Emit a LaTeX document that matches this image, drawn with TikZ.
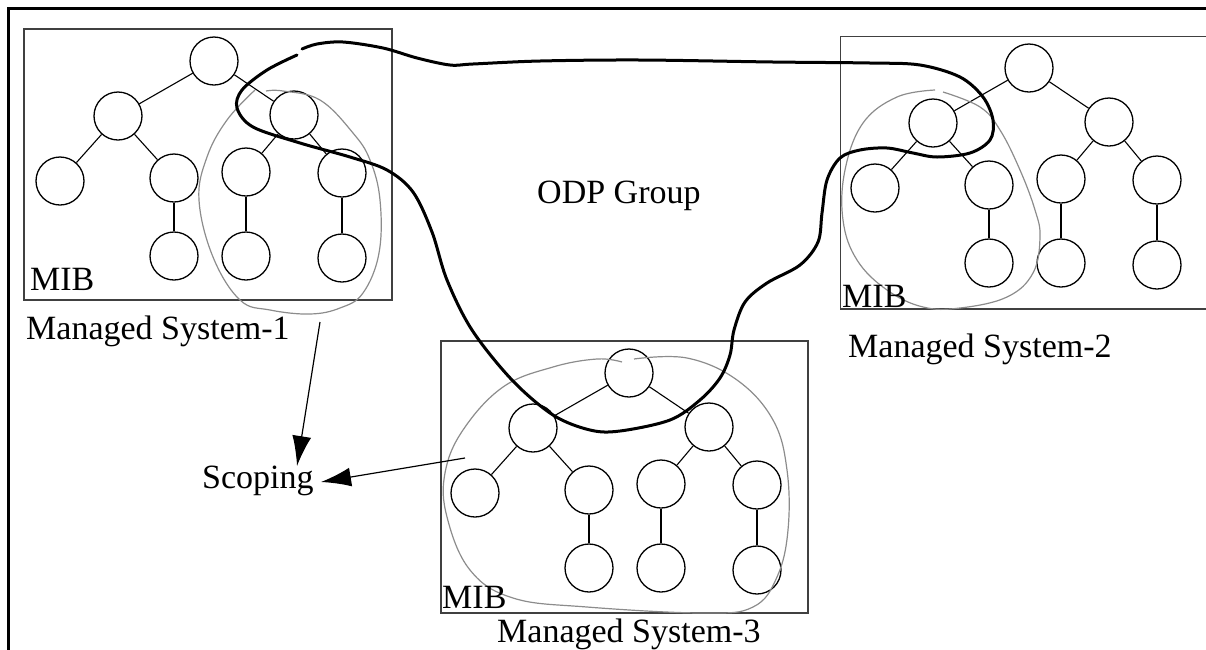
\documentclass[tikz,border=0pt]{standalone}
\usepackage{fontspec}
\setmainfont{Liberation Serif}
\usetikzlibrary{arrows.meta}
\tikzset{
  treenode/.style={circle,draw=black,line width=1.3pt,minimum size=48pt,inner sep=0pt},
  treeedge/.style={draw=black,line width=1.1pt},
  mibbox/.style={draw=black!75,line width=1.4pt},
  scopecurve/.style={draw=black!45,line width=1.2pt},
  odpcurve/.style={draw=black,line width=3pt,line cap=round},
  frameline/.style={draw=black,line width=3pt},
  lbl/.style={anchor=base west,inner sep=0pt,font=\fontsize{34}{40}\selectfont},
  scopearrow/.style={draw=black,line width=1.2pt,-{Latex[length=30pt,width=19pt]}},
}
\newcommand\mibtree[3]{%
  \node[treenode] (#1-r)   at (#2,#3) {};
  \node[treenode] (#1-a)   at (#2-96,#3+55) {};
  \node[treenode] (#1-b)   at (#2+80,#3+54) {};
  \node[treenode] (#1-aa)  at (#2-154,#3+120) {};
  \node[treenode] (#1-ab)  at (#2-40,#3+117) {};
  \node[treenode] (#1-ba)  at (#2+32,#3+111) {};
  \node[treenode] (#1-bb)  at (#2+128,#3+112) {};
  \node[treenode] (#1-aba) at (#2-40,#3+195) {};
  \node[treenode] (#1-baa) at (#2+32,#3+195) {};
  \node[treenode] (#1-bba) at (#2+128,#3+197) {};
  \draw[treeedge] (#1-r) -- (#1-a);
  \draw[treeedge] (#1-r) -- (#1-b);
  \draw[treeedge] (#1-a) -- (#1-aa);
  \draw[treeedge] (#1-a) -- (#1-ab);
  \draw[treeedge] (#1-b) -- (#1-ba);
  \draw[treeedge] (#1-b) -- (#1-bb);
  \draw[treeedge] (#1-ab) -- (#1-aba);
  \draw[treeedge] (#1-ba) -- (#1-baa);
  \draw[treeedge] (#1-bb) -- (#1-bba);
}
\begin{document}
\begin{tikzpicture}[x=1pt,y=-1pt]
\useasboundingbox (0,0) rectangle (1206,649);
\clip (0,0) rectangle (1206,649);
% outer frame
\draw[frameline] (8.5,660) -- (8.5,8) -- (1215,8);
% MIB boxes
\draw[mibbox] (24,29) rectangle (392,300);
\draw[mibbox] (840.5,36.5) rectangle (1220,309);
\draw[mibbox] (441,341) rectangle (808,613);
% trees
\mibtree{s1}{214}{61}
\mibtree{s2}{1029}{68}
\mibtree{s3}{629}{373}
% scoping curves
\draw[scopecurve] plot[smooth,tension=0.65] coordinates {
 (266,91) (283,91) (320,100) (353,133) (370,160) (380,200) (379,253)
 (363,293) (340,308) (310,314) (270,310) (240,300) (213,257) (199,200)
 (207,157) (227,120) (255,90)};
\draw[scopecurve] plot[smooth,tension=0.65] coordinates {
 (943,92) (980,107) (1000,130) (1020,170) (1035,210) (1040,237) (1033,273)
 (1007,297) (960,308) (923,307) (887,290) (857,260) (843,220) (845,170)
 (863,123) (897,97) (935,90)};
\draw[scopecurve] plot[smooth,tension=0.65] coordinates {
 (634,359) (687,358) (737,380) (773,420) (787,470) (788,530) (777,577)
 (753,607) (703,613) (587,607) (513,598) (470,570) (447,517) (445,473)
 (463,430) (503,387) (553,367) (597,359) (622,362)};
% ODP group curve
\draw[odpcurve] plot[smooth,tension=0.55] coordinates {
 (302,49) (317,44) (343,42) (383,48) (417,58) (450,65) (473,64) (540,61)
 (640,60) (773,62) (870,63) (920,65) (960,77) (983,97) (993,120) (990,140)
 (970,153) (937,157) (913,153) (887,148) (860,150) (840,158) (827,180)
 (822,213) (818,242) (800,265) (767,283) (745,302) (734,330) (730,355)
 (720,378) (700,400) (670,420) (620,431) (590,430) (553,415) (512,380)
 (472,330) (447,280) (432,232) (413,192) (387,170) (350,157) (300,143)
 (253,127) (237,108) (242,90) (267,70) (297,55)};
% labels
\node[lbl] (mib1) at (30,290) {MIB};
\node[lbl] (ms1) at (26,339) {Managed System-1};
\node[lbl] (mib2) at (842,307) {MIB};
\node[lbl] (ms2) at (848,357) {Managed System-2};
\node[lbl] (mib3) at (442,608) {MIB};
\node[lbl] (ms3) at (497,642) {Managed System-3};
\node[lbl] (odp) at (537,203) {ODP Group};
\node[lbl] (scoping) at (202,488) {Scoping};
% scoping arrows
\coordinate (t1) at (320,322);
\coordinate (h1) at (297,466);
\coordinate (t2) at (465,458);
\coordinate (h2) at (321,482);
\draw[scopearrow] (t1) -- (h1);
\draw[scopearrow] (t2) -- (h2);
\end{tikzpicture}
\end{document}
